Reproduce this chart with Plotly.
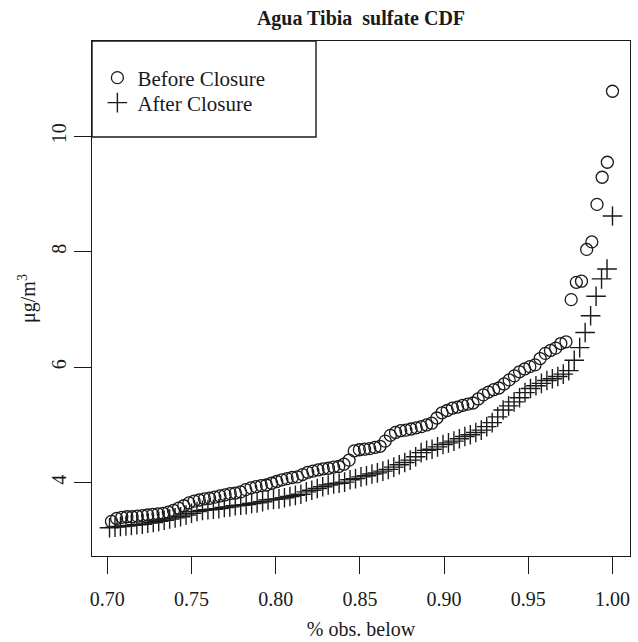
import numpy as np
import plotly.graph_objects as go

# Upper 30% of the empirical CDF (values sorted ascending)
n_before = 326
before_vals = [3.33, 3.38, 3.40, 3.41, 3.41, 3.42, 3.43, 3.44, 3.45, 3.46,
               3.47, 3.49, 3.52, 3.56, 3.60, 3.65, 3.68, 3.70, 3.72, 3.73,
               3.75, 3.77, 3.79, 3.81, 3.82, 3.84, 3.88, 3.91, 3.93, 3.95,
               3.96, 3.99, 4.02, 4.05, 4.07, 4.09, 4.10, 4.14, 4.18, 4.20,
               4.22, 4.24, 4.25, 4.27, 4.28, 4.32, 4.39, 4.55, 4.57, 4.58,
               4.59, 4.61, 4.63, 4.72, 4.82, 4.87, 4.90, 4.91, 4.93, 4.95,
               4.97, 5.00, 5.03, 5.12, 5.21, 5.25, 5.29, 5.31, 5.34, 5.36,
               5.38, 5.45, 5.52, 5.57, 5.61, 5.64, 5.71, 5.78, 5.85, 5.92,
               5.97, 6.01, 6.04, 6.15, 6.24, 6.29, 6.33, 6.41, 6.44, 7.17,
               7.47, 7.49, 8.04, 8.17, 8.82, 9.29, 9.55, 10.78]

n_after = 308
after_vals = [3.22, 3.23, 3.24, 3.25, 3.26, 3.27, 3.28, 3.30, 3.31, 3.33,
              3.35, 3.37, 3.39, 3.41, 3.44, 3.47, 3.50, 3.52, 3.53, 3.54,
              3.55, 3.57, 3.58, 3.60, 3.61, 3.62, 3.64, 3.65, 3.67, 3.70,
              3.71, 3.72, 3.74, 3.76, 3.78, 3.80, 3.84, 3.87, 3.90, 3.93,
              3.96, 3.98, 3.99, 4.01, 4.05, 4.07, 4.10, 4.12, 4.15, 4.17,
              4.20, 4.23, 4.27, 4.31, 4.35, 4.39, 4.45, 4.52, 4.56, 4.58,
              4.62, 4.66, 4.69, 4.72, 4.76, 4.80, 4.83, 4.87, 4.91, 4.97,
              5.04, 5.14, 5.26, 5.33, 5.40, 5.47, 5.56, 5.63, 5.68, 5.72,
              5.77, 5.80, 5.84, 5.88, 5.94, 6.12, 6.34, 6.60, 6.89, 7.23,
              7.53, 7.70, 8.62]

x_ticks = [0.70, 0.75, 0.80, 0.85, 0.90, 0.95, 1.00]
x_tick_labels = ["0.70", "0.75", "0.80", "0.85", "0.90", "0.95", "1.00"]
y_ticks = [4, 6, 8, 10]
y_tick_labels = ["4", "6", "8", "10"]

def cdf_x(vals, n):
    k = np.arange(n - len(vals) + 1, n + 1)
    return k / n

INK = "#1a1a1a"
FONT = "Liberation Serif, Times New Roman, serif"

fig = go.Figure()
fig.add_trace(go.Scatter(
    x=cdf_x(before_vals, n_before), y=before_vals, mode="markers",
    name="Before Closure", legend="legend",
    marker=dict(symbol="circle-open", size=12, color=INK,
                line=dict(width=1.3, color=INK)),
))
fig.add_trace(go.Scatter(
    x=cdf_x(after_vals, n_after), y=after_vals, mode="markers",
    name="After Closure", legend="legend2",
    marker=dict(symbol="cross-thin-open", size=14, color=INK,
                line=dict(width=1.4, color=INK)),
))

axis_common = dict(
    showline=True, mirror=True, linecolor=INK, linewidth=1.4,
    ticks="outside", ticklen=17, tickwidth=1.3, tickcolor=INK,
    showgrid=False, zeroline=False, automargin=False,
    tickfont=dict(family=FONT, size=20, color=INK),
)

legend_common = dict(xanchor="left", yanchor="middle",
                     bgcolor="rgba(0,0,0,0)", borderwidth=0,
                     font=dict(family=FONT, size=21, color=INK))

fig.update_layout(
    width=638, height=642,
    margin=dict(l=92, r=8, t=41, b=86, autoexpand=False),
    paper_bgcolor="white", plot_bgcolor="white",
    font=dict(family=FONT, size=20, color=INK),
    title=dict(text="<b>Agua Tibia\u00a0 sulfate CDF</b>", x=0.5, xref="paper",
               xanchor="center", y=1 - 18 / 642, yanchor="middle",
               font=dict(family=FONT, size=20, color=INK)),
    xaxis=dict(range=[0.6909, 1.0104], tickvals=x_ticks, ticktext=x_tick_labels,
               title=dict(text="% obs. below", standoff=12,
                          font=dict(family=FONT, size=20, color=INK)),
               ticklabelstandoff=8,
               **axis_common),
    yaxis=dict(range=[2.73, 11.65], tickvals=y_ticks, ticktext=y_tick_labels,
               tickangle=-90, ticklabelstandoff=0,
               title=dict(text="μg/m<sup>3</sup>", standoff=6,
                          font=dict(family=FONT, size=20, color=INK)),
               **axis_common),
    showlegend=True,
    legend=dict(x=0.01, y=1 - (77.7 - 40.7) / 515.3, **legend_common),
    legend2=dict(x=0.01, y=1 - (102.7 - 40.7) / 515.3, **legend_common),
    shapes=[dict(type="rect", xref="paper", yref="paper",
                 x0=0, x1=(316 - 92) / 538, y0=1 - (136.7 - 40.7) / 515.3, y1=1,
                 line=dict(color=INK, width=1.4), fillcolor="rgba(0,0,0,0)")],
)

fig.write_html("out.html", config={"displayModeBar": False},
               post_script="document.body.style.margin='0';document.body.style.overflow='hidden';")
